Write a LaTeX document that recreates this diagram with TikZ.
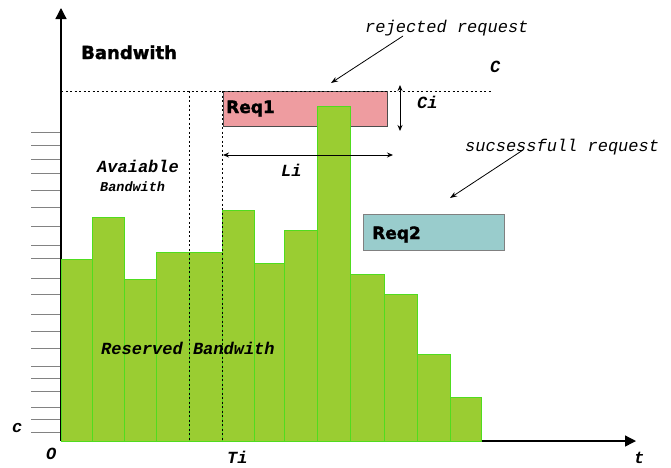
\documentclass[tikz,border=0pt]{standalone}
\usepackage{fontspec}
\setmainfont{DejaVu Sans}
\newfontfamily\heavyfont[FakeBold=1.6]{DejaVu Sans Bold}
\newfontfamily\monofont{Liberation Mono}
\usetikzlibrary{arrows.meta}
\definecolor{barfill}{RGB}{154,205,50}
\definecolor{baredge}{RGB}{80,220,30}
\definecolor{reqpink}{RGB}{238,156,160}
\definecolor{reqteal}{RGB}{153,204,204}
\definecolor{tickgray}{RGB}{130,130,130}

\begin{document}
\begin{tikzpicture}[x=1pt,y=-1pt,
  bar/.style={fill=barfill, draw=baredge, line width=0.9pt},
  axis/.style={line width=1.3pt, -{Triangle[length=11pt,width=11pt]}},
  guide/.style={line width=1pt, dash pattern=on 2pt off 2.5pt},
  tickline/.style={draw=tickgray, line width=0.8pt},
  reqbox/.style={line width=0.9pt, minimum height=35pt, inner sep=0pt, anchor=north west},
  reqtext/.style={font=\fontsize{17}{20}\selectfont\heavyfont, inner sep=0pt, anchor=base west},
  monolabel/.style={font=\fontsize{17}{20}\selectfont\monofont\bfseries\itshape, inner sep=0pt, anchor=base west},
  monolight/.style={font=\fontsize{17}{20}\selectfont\monofont\itshape, inner sep=0pt, anchor=base west},
  measure/.style={line width=0.9pt, {Stealth[length=6pt,width=5pt]}-{Stealth[length=6pt,width=5pt]}},
  pointer/.style={line width=0.8pt, -{Stealth[length=7pt,width=5pt]}}]
\useasboundingbox (0,0) rectangle (671,467);

% scale marks on the bandwidth axis
\foreach \y in {132,145,159,173,190,207,226,245,258,278,294,314,331,348,366,378,391,407,419,432}
  \draw[tickline] (31,\y) -- (61,\y);

% axes
\coordinate (origin) at (61,441);
\coordinate (ytip) at (61,8);
\coordinate (xtip) at (636,441);
\draw[axis] (origin) -- (ytip);
\draw[axis] (origin) -- (xtip);

% rejected request block
\node[reqbox, draw=black!70, fill=reqpink, minimum width=164pt] (req1) at (223,91) {};
\node[reqtext] (req1t) at (226,113) {Req1};

% successful request block
\node[reqbox, draw=black!50, fill=reqteal, minimum width=141pt, minimum height=36pt] (req2) at (363,214) {};
\node[reqtext] (req2t) at (372,239) {Req2};

% reserved bandwidth per time slot
\foreach \a/\b/\h in {61/92/259, 92/124/217, 124/156/279, 156/189/252, 189/222/252,
                      222/254/210, 254/284/263, 284/317/230, 317/350/106, 350/384/274,
                      384/417/294, 417/450/354, 450/481/397}
  \draw[bar] (\a,441) rectangle (\b,\h);

% capacity level and time marks
\coordinate (cleft) at (61,91);
\coordinate (cright) at (492,91);
\draw[guide] (cleft) -- (cright);
\coordinate (g1top) at (189,91);
\coordinate (g1bot) at (189,441);
\draw[guide] (g1top) -- (g1bot);
\coordinate (titop) at (222,91);
\coordinate (tibot) at (222,441);
\draw[guide] (titop) -- (tibot);

% request length and size
\coordinate (liL) at (223,155);
\coordinate (liR) at (393,155);
\draw[measure] (liL) -- (liR);
\coordinate (ciT) at (400,85);
\coordinate (ciB) at (400,131);
\draw[measure] (ciT) -- (ciB);

% labels
\node[font=\fontsize{18}{22}\selectfont\heavyfont, inner sep=0pt, anchor=base west] (bw) at (81,59) {Bandwith};
\node[monolabel] (avail) at (97,172) {Avaiable};
\node[monolabel, font=\fontsize{13.5}{16}\selectfont\monofont\bfseries\itshape] (availbw) at (100,191) {Bandwith};
\node[monolabel] (resv) at (101,354) {Reserved Bandwith};
\node[monolight] (rej) at (365,32) {rejected request};
\node[monolight] (succ) at (465,151) {sucsessfull request};
\node[monolabel] (cap) at (490,72) {C};
\node[monolabel] (ci) at (417,108) {Ci};
\node[monolabel] (li) at (281,176) {Li};
\node[monolabel] (cl) at (12,432) {c};
\node[monolabel] (ol) at (46,459) {O};
\node[monolabel] (ti) at (227,463) {Ti};
\node[monolabel] (tl) at (634,463) {t};

% pointers from the captions to the requests
\coordinate (rejtail) at (403,36);
\coordinate (rejhead) at (331,83);
\draw[pointer] (rejtail) -- (rejhead);
\coordinate (succtail) at (523,150);
\coordinate (succhead) at (450,198);
\draw[pointer] (succtail) -- (succhead);
\end{tikzpicture}
\end{document}
